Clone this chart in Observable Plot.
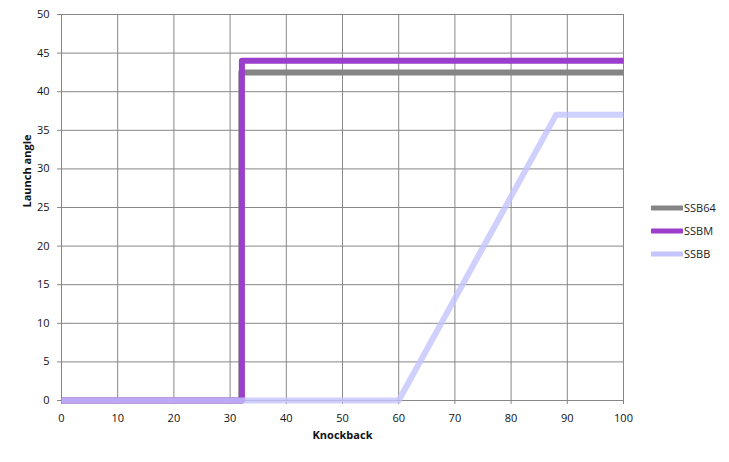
<!DOCTYPE html>
<html>
<head>
<meta charset="utf-8">
<script src="https://cdn.jsdelivr.net/npm/d3@7"></script>
<script src="https://cdn.jsdelivr.net/npm/@observablehq/plot@0.6"></script>
<style>
  html, body { margin: 0; padding: 0; background: #fff; }
  #wrap { position: relative; width: 729px; height: 462px; font-family: "Open Sans", sans-serif; }
  #legend { position: absolute; left: 651px; top: 196px; font-size: 11px; color: #222; }
  .item { display: flex; align-items: center; height: 23px; }
  .item svg { margin-right: 1px; }
</style>
</head>
<body>
<div id="wrap"><div id="legend"></div></div>
<script>
const seriesNames = ["SSB64", "SSBM", "SSBB"];
const seriesColors = ["#858585", "#9b3ecc", "#c4c4ff"];

const ssb64Knockback = [0, 32, 32, 100];
const ssb64Angle     = [0, 0, 42.5, 42.5];
const ssbmKnockback  = [0, 32.1, 32.1, 100];
const ssbmAngle      = [0, 0, 44, 44];
const ssbbKnockback  = [0, 60, 88, 100];
const ssbbAngle      = [0, 0, 37, 37];

const xTicks = [0, 10, 20, 30, 40, 50, 60, 70, 80, 90, 100];
const yTicks = [0, 5, 10, 15, 20, 25, 30, 35, 40, 45, 50];

const toRows = (name, xs, ys) => xs.map((x, i) => ({series: name, knockback: x, angle: ys[i]}));
const rows64 = toRows("SSB64", ssb64Knockback, ssb64Angle);
const rowsM  = toRows("SSBM", ssbmKnockback, ssbmAngle);
const rowsB  = toRows("SSBB", ssbbKnockback, ssbbAngle);

const grid = "#878787";
const lineOpts = (extra) => Object.assign({
  x: "knockback", y: "angle", stroke: "series",
  strokeWidth: 6, strokeLinejoin: "round", strokeLinecap: "butt"
}, extra);

const chart = Plot.plot({
  width: 729,
  height: 462,
  marginLeft: 61,
  marginRight: 106,
  marginTop: 14,
  marginBottom: 62,
  style: {fontFamily: "Open Sans, sans-serif", fontSize: "11px", color: "#111", background: "#fff"},
  x: {domain: [0, 100], ticks: xTicks, label: null},
  y: {domain: [0, 50], ticks: yTicks, label: null},
  color: {domain: seriesNames, range: seriesColors},
  marks: [
    Plot.gridX(xTicks, {stroke: grid, strokeOpacity: 1, strokeWidth: 1}),
    Plot.gridY(yTicks, {stroke: grid, strokeOpacity: 1, strokeWidth: 1}),
    Plot.axisX(xTicks, {tickSize: 4, tickPadding: 10, stroke: grid, label: null}),
    Plot.axisY(yTicks, {tickSize: 4, tickPadding: 8, stroke: grid, label: null}),
    Plot.line(rows64, lineOpts({})),
    Plot.line(rowsM, lineOpts({})),
    Plot.line(rowsB, lineOpts({strokeOpacity: 0.8})),
    Plot.text(["Knockback"], {frameAnchor: "bottom", dy: 38, fontWeight: "bold", fontSize: 11, fill: "#111"}),
    Plot.text(["Launch angle"], {frameAnchor: "left", dx: -34, rotate: -90, fontWeight: "bold", fontSize: 11, fill: "#111"})
  ]
});
document.getElementById("wrap").prepend(chart);
chart.style.position = "absolute";
chart.style.left = "0";
chart.style.top = "0";

const legend = document.getElementById("legend");
seriesNames.forEach((name, i) => {
  const item = document.createElement("div");
  item.className = "item";
  item.innerHTML = `<svg width="32" height="8"><line x1="1" y1="4" x2="31" y2="4" stroke="${seriesColors[i]}" stroke-width="5" stroke-linecap="round"/></svg><span>${name}</span>`;
  legend.appendChild(item);
});
</script>
</body>
</html>
